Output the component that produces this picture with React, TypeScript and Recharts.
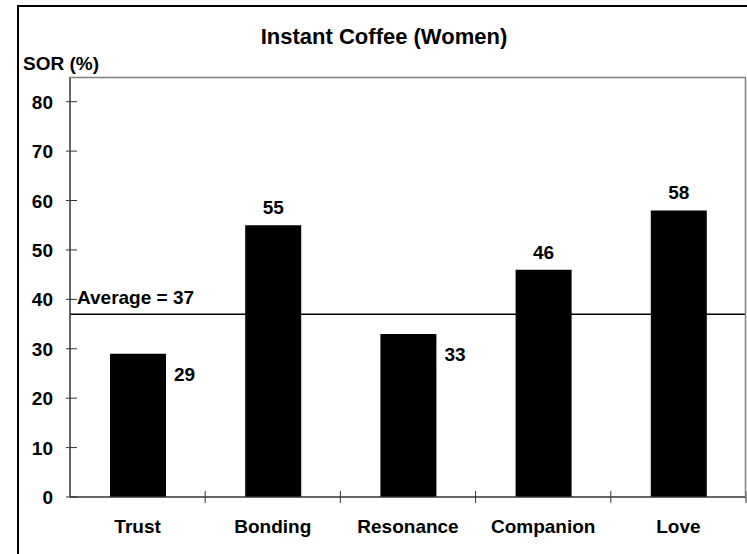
import React from 'react'
import {
  BarChart,
  Bar,
  XAxis,
  YAxis,
  ReferenceLine,
  LabelList,
} from 'recharts'

const categories = ['Trust', 'Bonding', 'Resonance', 'Companion', 'Love']
const sorValues = [29, 55, 33, 46, 58]
const yTicks = [0, 10, 20, 30, 40, 50, 60, 70, 80]
const Y_MAX = 85
const AVERAGE = 37

const W = 747
const H = 554
const FONT = 'Arial, "Liberation Sans", sans-serif'
const FS = 19
const PLOT_LEFT = 70
const PLOT_TOP = 77
const PLOT_RIGHT = 746
const PLOT_BOTTOM = 497

const data = categories.map((name, i) => ({ name, value: sorValues[i] }))

function YTick({ x, y, payload }: any) {
  return (
    <g>
      <line x1={x - 4} x2={x + 7} y1={y} y2={y} stroke="#333" strokeWidth={1} />
      <text
        x={x - 17}
        y={y + 7}
        textAnchor="end"
        fontFamily={FONT}
        fontWeight="bold"
        fontSize={FS}
        fill="#000"
      >
        {payload.value}
      </text>
    </g>
  )
}

function XTick({ x, y, payload }: any) {
  const half = payload.offset || (PLOT_RIGHT - PLOT_LEFT) / categories.length / 2
  const bx = x + half
  return (
    <g>
      <line x1={bx} x2={bx} y1={y - 6} y2={y + 6} stroke="#333" strokeWidth={1} />
      <text
        x={x}
        y={y + 36}
        textAnchor="middle"
        fontFamily={FONT}
        fontWeight="bold"
        fontSize={FS}
        fill="#000"
      >
        {payload.value}
      </text>
    </g>
  )
}

function BarValue({ x, y, width, value }: any) {
  const below = value < AVERAGE
  return (
    <text
      x={below ? x + width + 8 : x + width / 2}
      y={below ? y + 27 : y - 11}
      textAnchor={below ? 'start' : 'middle'}
      fontFamily={FONT}
      fontWeight="bold"
      fontSize={FS}
      fill="#000"
    >
      {value}
    </text>
  )
}

function AverageLabel({ viewBox }: any) {
  return (
    <text
      x={viewBox.x + 7}
      y={viewBox.y - 10}
      fontFamily={FONT}
      fontWeight="bold"
      fontSize={FS}
      fill="#000"
    >
      {`Average = ${AVERAGE}`}
    </text>
  )
}

export default function App() {
  return (
    <div
      style={{
        position: 'fixed',
        left: 0,
        top: 0,
        width: W,
        height: H,
        overflow: 'hidden',
        background: '#fff',
      }}
    >
      <div
        style={{
          position: 'absolute',
          left: 17,
          top: 5,
          width: W,
          height: H,
          border: '2px solid #000',
        }}
      />
      <div style={{ position: 'absolute', left: 0, top: 0 }}>
        <BarChart
          width={W}
          height={H}
          data={data}
          margin={{ top: PLOT_TOP, right: W - PLOT_RIGHT, left: 0, bottom: 0 }}
        >
          <XAxis
            dataKey="name"
            height={H - PLOT_BOTTOM}
            axisLine={{ stroke: '#333', strokeWidth: 1.5 }}
            tickLine={false}
            tickSize={0}
            tickMargin={0}
            interval={0}
            tick={<XTick />}
          />
          <YAxis
            width={PLOT_LEFT}
            domain={[0, Y_MAX]}
            ticks={yTicks}
            interval={0}
            axisLine={{ stroke: '#333', strokeWidth: 1.5 }}
            tickLine={false}
            tickSize={0}
            tickMargin={0}
            tick={<YTick />}
          />
          <ReferenceLine
            y={AVERAGE}
            stroke="#000"
            strokeWidth={1.5}
            label={<AverageLabel />}
          />
          <Bar dataKey="value" fill="#000" barSize={56} isAnimationActive={false}>
            <LabelList dataKey="value" content={<BarValue />} />
          </Bar>
        </BarChart>
      </div>
      <svg
        width={W}
        height={H}
        style={{ position: 'absolute', left: 0, top: 0, pointerEvents: 'none' }}
      >
        {/* plot-area border: top and right edges */}
        <polyline
          points={`${PLOT_LEFT},${PLOT_TOP + 0.5} ${PLOT_RIGHT - 0.5},${PLOT_TOP + 0.5} ${PLOT_RIGHT - 0.5},${PLOT_BOTTOM}`}
          fill="none"
          stroke="#808080"
          strokeWidth={1.5}
        />
        <text
          x={384}
          y={44}
          textAnchor="middle"
          fontFamily={FONT}
          fontWeight="bold"
          fontSize={22}
          fill="#000"
        >
          Instant Coffee (Women)
        </text>
        <text x={23} y={70} fontFamily={FONT} fontWeight="bold" fontSize={19} fill="#000">
          SOR (%)
        </text>
      </svg>
    </div>
  )
}
